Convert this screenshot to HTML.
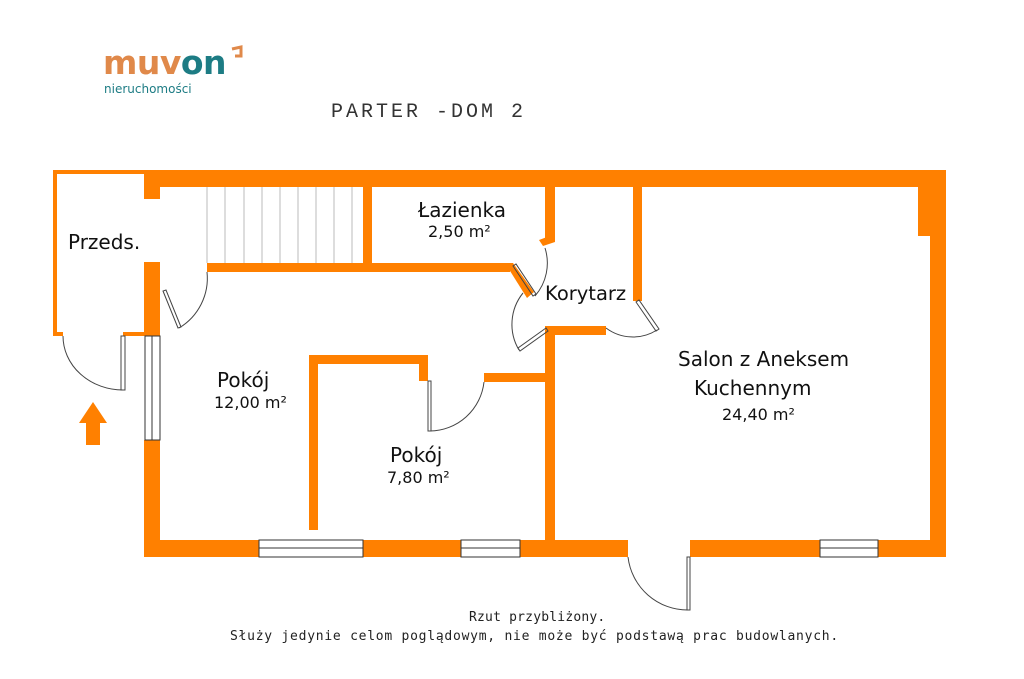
<!DOCTYPE html>
<html><head><meta charset="utf-8"><style>
html,body{margin:0;padding:0;background:#fff;}
svg{display:block}
</style></head><body>
<svg width="1024" height="679" viewBox="0 0 1024 679" xmlns="http://www.w3.org/2000/svg">
<text x="103" y="74" font-family="DejaVu Sans, sans-serif" font-weight="bold" font-size="33" fill="#e0894a" letter-spacing="-0.5">muv<tspan fill="#1d7c84">on</tspan></text>
<path d="M232 49 L241 47 L241 56 L235 56" fill="none" stroke="#e0894a" stroke-width="3"/>
<text x="104" y="93" font-family="DejaVu Sans, sans-serif" font-size="12" fill="#1d7c84">nieruchomości</text>
<text x="331" y="117" font-family="Liberation Mono, monospace" font-size="20" letter-spacing="3" fill="#333">PARTER -DOM 2</text>

<g fill="#ff8000">
<rect x="53" y="170" width="93" height="4"/>
<rect x="53" y="170" width="4" height="166"/>
<rect x="53" y="332" width="10" height="4"/>
<rect x="123" y="332" width="22" height="4"/>
<rect x="144" y="170" width="802" height="17"/>
<rect x="144" y="170" width="16" height="29"/>
<rect x="144" y="262" width="16" height="74"/>
<rect x="144" y="440" width="16" height="117"/>
<rect x="144" y="540" width="484" height="17"/>
<rect x="690" y="540" width="256" height="17"/>
<rect x="930" y="170" width="16" height="387"/>
<rect x="918" y="187" width="28" height="49"/>
<rect x="207" y="263" width="303" height="9"/>
<polygon points="505,263 513,263 534,292 527,298"/>
<rect x="363" y="187" width="9" height="80"/>
<rect x="545" y="187" width="10" height="52"/>
<polygon points="555,234 555,242 543,246 539,240"/>
<rect x="633" y="187" width="9" height="114"/>
<rect x="545" y="326" width="61" height="9"/>
<rect x="545" y="326" width="10" height="215"/>
<rect x="309" y="355" width="119" height="9"/>
<rect x="309" y="355" width="9" height="175"/>
<rect x="419" y="355" width="9" height="26"/>
<rect x="484" y="373" width="62" height="9"/>
<polygon points="93,402 107,423 100,423 100,445 86,445 86,423 79,423"/>
</g>

<g fill="#fff" stroke="#333" stroke-width="1">
<rect x="145" y="336" width="15" height="104"/>
<line x1="152" y1="336" x2="152" y2="440"/>
<rect x="259" y="540" width="104" height="17"/>
<line x1="259" y1="548" x2="363" y2="548"/>
<rect x="461" y="540" width="59" height="17"/>
<line x1="461" y1="548" x2="520" y2="548"/>
<rect x="820" y="540" width="58" height="17"/>
<line x1="820" y1="548" x2="878" y2="548"/>
</g>

<g stroke="#bbb" stroke-width="1">
<line x1="207" y1="187" x2="207" y2="263"/>
<line x1="225" y1="187" x2="225" y2="263"/>
<line x1="244" y1="187" x2="244" y2="263"/>
<line x1="262" y1="187" x2="262" y2="263"/>
<line x1="280" y1="187" x2="280" y2="263"/>
<line x1="298" y1="187" x2="298" y2="263"/>
<line x1="316" y1="187" x2="316" y2="263"/>
<line x1="334" y1="187" x2="334" y2="263"/>
<line x1="352" y1="187" x2="352" y2="263"/>
</g>

<g fill="none" stroke="#444" stroke-width="1">
<rect x="121" y="336" width="4" height="54"/>
<path d="M63 336 A60 54 0 0 0 123 390"/>
<path d="M163 291 L178 328 L181 327 L166 290 Z"/>
<path d="M207 272 A58 58 0 0 1 179 328"/>
<path d="M513 266 L533 296 L536 294 L516 264 Z"/>
<path d="M545 248 A50 50 0 0 1 535 296"/>
<path d="M546 328 L518 348 L520 351 L548 331 Z"/>
<path d="M523 293 A50 50 0 0 0 519 350"/>
<path d="M636 302 L656 331 L659 329 L639 300 Z"/>
<path d="M606 328 A45 45 0 0 0 657 330"/>
<rect x="428" y="381" width="3" height="50"/>
<path d="M484 382 A55 55 0 0 1 430 431"/>
<rect x="687" y="557" width="3" height="53"/>
<path d="M628 557 A60 60 0 0 0 688 610"/>
</g>

<g font-family="DejaVu Sans, sans-serif" fill="#111">
<text x="68" y="249" font-size="20">Przeds.</text>
<text x="418" y="217" font-size="20">Łazienka</text>
<text x="428" y="237" font-size="16">2,50 m²</text>
<text x="545" y="300" font-size="19.5">Korytarz</text>
<text x="217" y="387" font-size="20">Pokój</text>
<text x="214" y="408" font-size="16">12,00 m²</text>
<text x="390" y="462" font-size="20">Pokój</text>
<text x="387" y="483" font-size="16">7,80 m²</text>
<text x="678" y="366" font-size="20">Salon z Aneksem</text>
<text x="694" y="395" font-size="20">Kuchennym</text>
<text x="722" y="420" font-size="16">24,40 m²</text>
</g>
<g font-family="DejaVu Sans Mono, monospace" font-size="13" fill="#222">
<text x="469" y="621" letter-spacing="0.2">Rzut przybliżony.</text>
<text x="230" y="640" letter-spacing="0.75">Służy jedynie celom poglądowym, nie może być podstawą prac budowlanych.</text>
</g>
</svg>
</body></html>
